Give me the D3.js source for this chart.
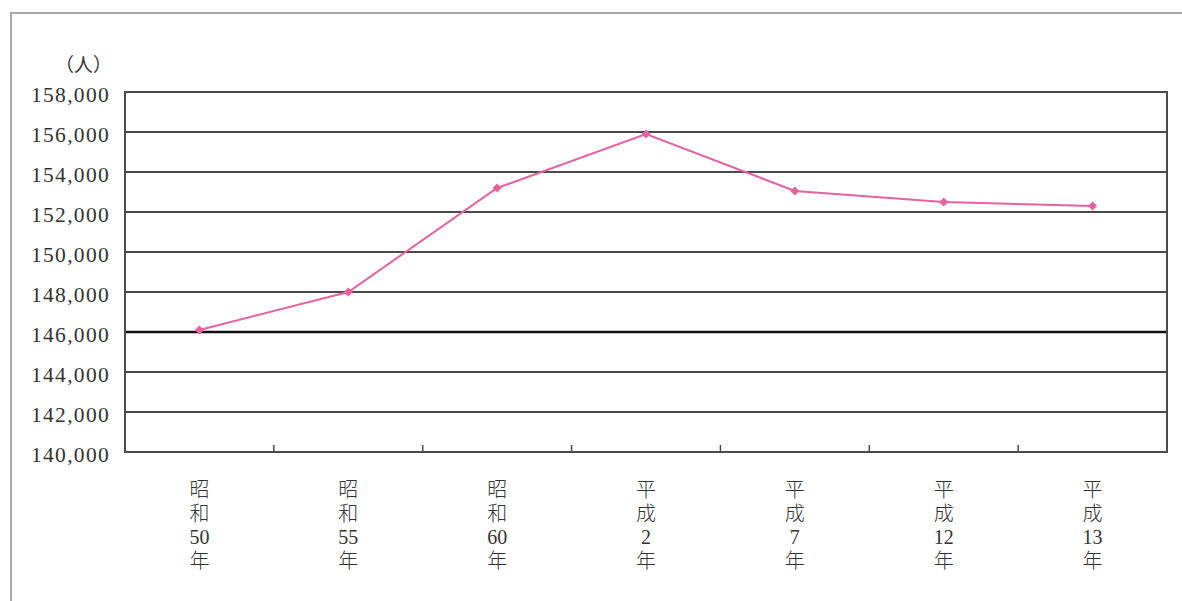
<!DOCTYPE html>
<html>
<head>
<meta charset="utf-8">
<script src="https://cdn.jsdelivr.net/npm/d3@7"></script>
<style>
  html, body { margin: 0; padding: 0; background: #fff; }
  svg { display: block; }
  .lbl { font-family: "Liberation Serif", "Noto Sans CJK JP", serif; fill: #333; }
</style>
</head>
<body>
<svg id="chart" width="1182" height="601"></svg>
<script>
// 年次別人口の推移
const categories = [
  ["昭", "和", "50", "年"],
  ["昭", "和", "55", "年"],
  ["昭", "和", "60", "年"],
  ["平", "成", "2", "年"],
  ["平", "成", "7", "年"],
  ["平", "成", "12", "年"],
  ["平", "成", "13", "年"]
];
const population = [146100, 148000, 153200, 155900, 153050, 152500, 152300];
const yTicks = [140000, 142000, 144000, 146000, 148000, 150000, 152000, 154000, 156000, 158000];
const unitLabel = "（人）";

const svg = d3.select("#chart");
const plot = { left: 125, right: 1167, top: 92, bottom: 452 };

const keys = categories.map(c => c.join(""));
const x = d3.scaleBand().domain(keys).range([plot.left, plot.right]).paddingInner(0).paddingOuter(0);
const y = d3.scaleLinear().domain([140000, 158000]).range([plot.bottom, plot.top]);

// page frame
svg.append("path")
  .attr("d", `M11,601 L11,13 L1182,13`)
  .attr("fill", "none").attr("stroke", "#a8a8a8").attr("stroke-width", 2);

// horizontal grid lines
svg.append("g").selectAll("line").data(yTicks).join("line")
  .attr("x1", plot.left).attr("x2", plot.right)
  .attr("y1", d => y(d)).attr("y2", d => y(d))
  .attr("stroke", d => d === 146000 ? "#111" : "#4a4a4a")
  .attr("stroke-width", d => d === 146000 ? 2.6 : 2);

// plot frame
svg.append("rect")
  .attr("x", plot.left).attr("y", plot.top)
  .attr("width", plot.right - plot.left).attr("height", plot.bottom - plot.top)
  .attr("fill", "none").attr("stroke", "#4a4a4a").attr("stroke-width", 2);

// category boundary ticks
svg.append("g").selectAll("line").data(keys.slice(1)).join("line")
  .attr("x1", d => x(d)).attr("x2", d => x(d))
  .attr("y1", plot.bottom).attr("y2", plot.bottom - 7)
  .attr("stroke", "#4a4a4a").attr("stroke-width", 1.5);

// y axis labels
const yAxis = d3.axisLeft(y).tickValues(yTicks).tickSize(0).tickPadding(14)
  .tickFormat(d3.format(","));
const gy = svg.append("g").attr("transform", `translate(${plot.left - 1},3)`).call(yAxis);
gy.select(".domain").remove();
gy.selectAll("text").attr("class", "lbl")
  .style("font-size", "21.5px").style("letter-spacing", "1.3px").attr("fill", "#333");

svg.append("text").attr("class", "lbl")
  .attr("x", 112).attr("y", 72).attr("text-anchor", "end")
  .style("font-size", "19px").text(unitLabel);

// vertical category labels
const cx = d => x(d) + x.bandwidth() / 2;
const gl = svg.append("g").selectAll("g").data(categories).join("g")
  .attr("transform", (d, i) => `translate(${cx(keys[i])},0)`);
gl.selectAll("text").data(d => d).join("text")
  .attr("class", "lbl")
  .attr("x", 0).attr("y", (d, j) => 497 + j * 23.5)
  .attr("text-anchor", "middle")
  .style("font-size", "20px")
  .style("font-weight", "300")
  .text(d => d);

// population line
const line = d3.line().x((d, i) => cx(keys[i])).y(d => y(d));
svg.append("path").datum(population)
  .attr("d", line)
  .attr("fill", "none").attr("stroke", "#e9619f").attr("stroke-width", 2);

svg.append("g").selectAll("path").data(population).join("path")
  .attr("transform", (d, i) => `translate(${cx(keys[i])},${y(d)}) rotate(45)`)
  .attr("d", d3.symbol(d3.symbolSquare, 42))
  .attr("fill", "#e9619f");
</script>
</body>
</html>
